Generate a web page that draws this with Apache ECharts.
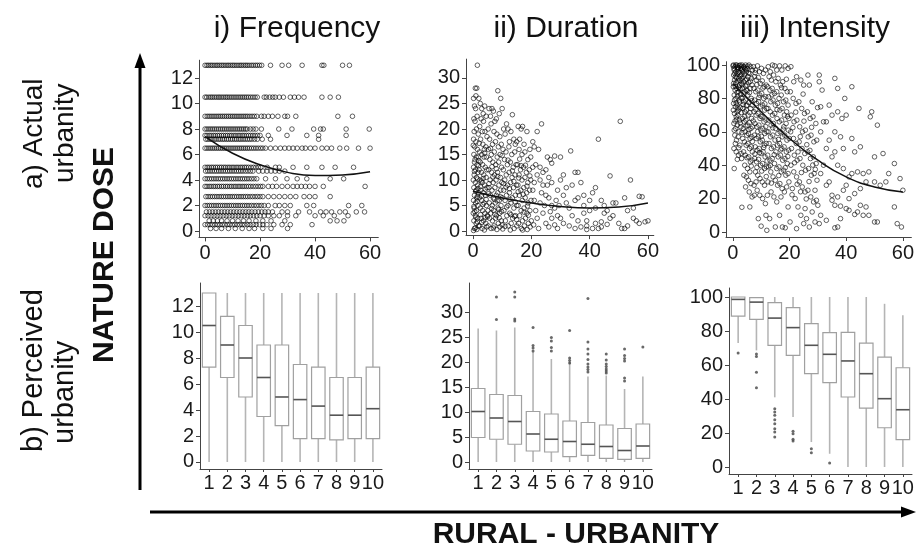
<!DOCTYPE html>
<html><head><meta charset="utf-8">
<script src="https://cdn.jsdelivr.net/npm/echarts@6/dist/echarts.min.js"></script>
<style>html,body{margin:0;padding:0;background:#fff}#c{width:917px;height:547px}</style>
</head><body><div id="c"></div>
<script>
// ---------- DATA ----------
const panelTitles = ['i) Frequency', 'ii) Duration', 'iii) Intensity'];
const rowLabelsA = ['a) Actual', 'urbanity'];
const rowLabelsB = ['b) Perceived', 'urbanity'];
const yTitle = 'NATURE DOSE';
const xTitle = 'RURAL - URBANITY';
const categories = ['1','2','3','4','5','6','7','8','9','10'];
const scatterXTicks = [0, 20, 40, 60];
const freqTicks = [0, 2, 4, 6, 8, 10, 12];
const durTicks = [0, 5, 10, 15, 20, 25, 30];
const intTicks = [0, 20, 40, 60, 80, 100];

// Frequency: reported levels and the urbanity values of respondents at each level
const freqLevels = [13, 10.5, 9, 8, 7.5, 7.2, 6.5, 5, 4.7, 4.1, 3.5, 2.7, 2.0, 1.5, 1.2, 0.8, 0.5, 0.2];
const freqXs = [
  [0,0.7,1.3,2,2.6,3.3,4,4.6,5.3,6,6.6,7.3,8,8.6,9.3,10,10.6,11.3,12,12.7,13.3,14,14.7,15.3,16,16.8,17.5,18.3,19,19.8,20.6,23.8,28,30.4,35.3,42.5,43.2,50,52.5],
  [0,0.6,1.4,2.1,2.7,3.4,4.1,4.8,5.4,6.1,6.8,7.5,8.1,8.8,9.5,10.2,10.9,11.6,12.3,13,13.7,14.4,15.1,15.8,16.6,17.4,18.2,19,21.5,22.3,23.5,24.6,25.5,27,28.5,31,32.5,34,36,42.5,45.5,48.5],
  [0,0.8,1.5,2.2,2.9,3.6,4.3,5,5.7,6.4,7.1,7.8,8.5,9.2,9.9,10.6,11.3,12,12.7,13.4,14.1,14.8,15.5,16.3,17.1,17.9,18.8,20.5,21.5,23,24.5,26.5,29,30,33,48.3,53.6],
  [0,0.7,1.4,2.1,2.8,3.5,4.2,4.9,5.6,6.3,7,7.7,8.4,9.1,9.8,10.5,11.2,11.9,12.6,13.3,14,14.7,15.3,16.5,17.5,18.5,20.5,26.8,31.6,39.5,42,43,51.3,59.7],
  [0,0.7,1.5,2.2,3,3.7,4.5,5.2,6,6.7,7.5,8.2,9,9.7,10.5,11.2,12,12.7,13.5,14.2,15,15.8,16.6,17.4,18.2,19.1,20,23,29.8,37,41.3,51.3],
  [0.3,1,1.8,2.5,3.3,4,4.8,5.5,6.3,7,7.8,8.5,9.3,10,10.8,11.5,12.3,13,13.8,14.6,15.4,16.2,17,18,19,20.8,23.8,41.3],
  [0,0.7,1.4,2.1,2.8,3.5,4.2,4.9,5.6,6.3,7,7.7,8.4,9.1,9.8,10.5,11.2,11.9,12.6,13.3,14,14.7,15.4,16.1,16.9,17.7,18.5,19.3,20.2,21,22,23.8,25.6,27.4,29,30.5,32,33.5,35.3,36.5,38.3,40,42.5,44.3,46,49,51.5,55.8,60],
  [0,0.8,1.5,2.3,3,3.8,4.5,5.3,6,6.8,7.5,8.3,9,9.8,10.5,11.3,12,12.8,13.5,14.3,15,15.8,16.7,17.6,18.5,19.4,20.3,22.6,25.6,27,32,37,42.5,47.3,54],
  [0.2,1,1.8,2.6,3.4,4.2,5,5.8,6.6,7.4,8.2,9,9.8,10.6,11.4,12.2,13,13.8,14.7,15.6,16.5,17.4,19.5,21,22.5,24,25.5,27,29],
  [0,0.8,1.6,2.4,3.2,4,4.8,5.6,6.4,7.2,8,8.8,9.6,10.4,11.2,12,12.8,13.6,14.4,15.2,16,16.9,17.8,18.8,22,25.6,29.8,33.5,37,45.5,50.4],
  [0,0.7,1.5,2.2,3,3.7,4.5,5.2,6,6.7,7.5,8.2,9,9.7,10.5,11.2,12,12.7,13.5,14.2,15,15.8,16.6,17.5,18.4,19.3,20.2,21,23,24.5,26,28,30,32,33.5,35,36.5,38,40,43,58.2],
  [0.3,1.1,1.9,2.7,3.5,4.3,5.1,5.9,6.7,7.5,8.3,9.1,9.9,10.7,11.5,12.3,13.1,13.9,14.7,15.5,16.4,17.3,18.2,19.1,20,21,23,25,27,29,31,33,36,38,40,45.5],
  [0,0.8,1.6,2.4,3.2,4,4.8,5.6,6.4,7.2,8,8.8,9.6,10.4,11.2,12,12.8,13.6,14.4,15.2,16,16.9,17.8,18.7,19.6,20.5,21.5,23,25.5,27,29,31,37,39.5,52.2,57],
  [0.5,1.6,2.7,3.8,4.9,6,7.1,8.2,9.3,10.4,11.5,12.6,13.7,14.8,15.9,17,18.2,19.4,20.6,21.8,23,24.5,28,30,34,38,42,44,46,49,51,55,58],
  [0,1.1,2.2,3.3,4.4,5.5,6.6,7.7,8.8,9.9,11,12.1,13.2,14.3,15.4,16.5,17.6,18.8,20,21.5,23,25,27,30,33,40,43,47,52],
  [1.5,3,4.5,6,8,10,12,14,16,18.5,21,24,29,45.5,48,50.5],
  [0,0.9,1.8,2.7,3.6,4.5,5.4,6.3,7.2,8.1,9,9.9,10.8,11.7,12.6,13.5,14.4,15.4,16.4,17.5,18.6,19.8,21,22.5,25,28,31,38.9],
  [2,4,6,8.5,11,13.5,16,18,21,24,30]
];
const freqFit = [[0,7.4],[10,6.1],[20,5.2],[30,4.6],[40,4.35],[50,4.4],[60,4.65]];

const durPoints = [
  [0.2,26],[0.5,24.5],[1,26.5],[1.5,32.5],[0.8,28],[1.3,28],[2,26],[0.3,22],[0.7,21.5],[1.2,20],[0.4,19.5],[1.8,19],[0.2,18],[1,17.5],[0.6,16.5],[1.5,16],[0.3,15],[1.1,14.5],[1.8,14.5],[0.5,13.5],[1.4,13],[0.2,12.5],[0.9,12],[1.7,11.5],[0.4,11],[1.2,10.5],[0.1,10],[0.8,9.5],[1.6,9],[0.3,8.5],[1.1,8],[1.9,7.5],[0.5,7],[1.3,6.5],[0.2,6],[0.9,5.5],[1.7,5],[0.4,4.5],[1.2,4],[0.1,3.5],[0.8,3],[1.6,2.5],[0.3,2],[1.1,1.5],[1.9,1],[0.5,0.5],[1.3,0.3],[0.2,0.1],[0.8,0.6],[1.5,1.8],[0.6,3.8],[1.4,5.8],[0.9,7.8],[1.6,10.2],[0.7,14],[1.9,12.8],[0.1,16.8],[1.4,22.5],[0.9,24],
  [2.5,25],[3,24],[3.5,23],[4,24.5],[2.8,22],[3.6,21.5],[4.5,22.5],[2.3,20.5],[3.2,19.5],[4.1,19.5],[4.8,18.5],[2.6,18],[3.4,17],[4.4,16.5],[2.2,15.5],[3,15],[3.8,14.5],[4.6,14.5],[2.5,13.5],[3.3,13],[4.2,12.5],[2.1,12],[2.9,11.5],[3.7,11],[4.5,10.5],[2.4,10],[3.2,9.5],[4,9],[4.8,8.5],[2.7,8],[3.5,7.5],[4.3,7],[2.2,6.5],[3,6],[3.8,5.5],[4.6,5],[2.5,4.5],[3.3,4],[4.1,3.5],[4.9,3],[2.8,2.5],[3.6,2],[4.4,1.5],[2.3,1],[3.1,0.5],[3.9,0.2],[4.7,0.8],[2.6,3.2],[3.4,5.2],[4.2,8.2],[2.9,9.8],[4.7,12],[3.9,16],[2.1,17.2],
  [5.5,24],[6,22.5],[6.5,24],[7,23.5],[7.5,21.5],[8,22],[8.5,27.5],[9.5,26],[9,23],[10,24],[5.2,20],[6.2,21],[7.2,19.5],[8.2,19],[9.2,18.5],[5.7,18],[6.7,17],[7.7,17.5],[8.7,16.5],[9.7,17],[5.3,16],[6.3,15],[7.3,15.5],[8.3,14.5],[9.3,15],[5.8,14],[6.8,13.5],[7.8,13],[8.8,13.5],[9.8,12.5],[5.4,12],[6.4,11.5],[7.4,11],[8.4,11.5],[9.4,10.5],[5.9,10],[6.9,9.5],[7.9,10],[8.9,9],[9.9,9.5],[5.5,8.5],[6.5,8],[7.5,8.5],[8.5,7.5],[9.5,8],[6,7],[7,6.5],[8,7],[9,6],[10,6.5],[5.6,5.5],[6.6,5],[7.6,5.5],[8.6,4.5],[9.6,5],[5.1,4],[6.1,3.5],[7.1,4],[8.1,3],[9.1,3.5],[5.7,2.5],[6.7,2],[7.7,2.5],[8.7,1.5],[9.7,2],[5.2,1],[6.2,0.5],[7.2,1],[8.2,0.3],[9.2,0.8],[10,1.2],[6.4,4.4],[8.8,4.2],[7.3,6.2],
  [10.5,20],[11,19],[11.5,21],[12,20],[12.5,17.5],[13,19.5],[13.5,22.8],[14,18],[14.5,17],[15,17.5],[10.3,16],[11.3,15.5],[12.3,16.5],[13.3,15],[14.3,15.5],[10.8,14],[11.8,13],[12.8,13.5],[13.8,12.5],[14.8,13],[10.4,12],[11.4,11],[12.4,11.5],[13.4,10.5],[14.4,11],[10.9,10],[11.9,9],[12.9,9.5],[13.9,8.5],[14.9,9],[10.5,8],[11.5,7],[12.5,7.5],[13.5,6.5],[14.5,7],[11,6],[12,5],[13,5.5],[14,4.5],[15,5],[10.6,4],[11.6,3],[12.6,3.5],[13.6,2.5],[14.6,3],[11.1,2],[12.1,1],[13.1,1.5],[14.1,0.5],[15,1],[10.2,0.4],[12.8,0.2],
  [15.5,20.5],[16.5,20],[17,20.5],[16,18],[17.5,17],[18.5,19.5],[19.5,16],[15.8,16],[16.8,15],[17.8,15.5],[18.8,14],[19.8,14.5],[15.3,13],[16.3,12],[17.3,12.5],[18.3,11.5],[19.3,12],[15.8,11],[16.8,10],[17.8,10.5],[18.8,9.5],[19.8,10],[15.4,9],[16.4,8],[17.4,8.5],[18.4,7.5],[19.4,8],[15.9,7],[16.9,6],[17.9,6.5],[18.9,5.5],[19.9,6],[15.5,5],[16.5,4],[17.5,4.5],[18.5,3.5],[19.5,4],[16,3],[17,2],[18,2.5],[19,1.5],[20,2],[15.6,1.5],[16.6,0.5],[17.6,1],[18.6,0.3],[19.6,0.8],
  [20.5,17.5],[21,16.5],[22,19.5],[22.5,16],[23.5,21],[20.5,12.5],[21.5,13],[22,11],[23,10],[23,12.5],[24,9],[24,11.5],[25,12],[25,7],[25.5,14.5],[26,10.5],[26,6.5],[26.5,14],[27,13.3],[27,5],[27,9.5],[28,14.7],[28,4.5],[29,8],[29,3],[30,14.5],[30,10],[30,2.5],[20.5,8],[21,6],[21.5,4],[22,2.5],[22.5,0.5],[23,5.5],[24,3.5],[25,1.5],[26,0.8],[27,2.5],[28,1.2],[29,0.5],[21,9.5],[23.5,7.5],[25.5,9],[28.5,6],[29.5,5],[24.5,5],[26.5,3.8],[20.8,1.2],
  [31,11],[31,7],[31,1.5],[32,5.5],[33,4.5],[33,1],[33.5,15.7],[34,3],[35,11.5],[35,6],[35,0.5],[36,11.5],[36,6.5],[36,2],[37,9.5],[37,0.8],[38,5],[38,3.5],[39,2],[39,0.3],[40,6],[40,4],[41,7.5],[41,0.5],[42,8.5],[42,4.5],[42,1.5],[43,18],[43,0.5],[44,6],[44,1.8],[45,5],[45,3.5],[46,1.3],[47,10.8],[47,2.5],[48,5.5],[48,3],[49,5.5],[50,1.5],[50.5,21.5],[51,0.5],[52,6.5],[52,0.5],[53,1],[54,10],[55,2.5],[56,2],[57,6.8],[57,1.5],[58,6.7],[59,1.8],[32,8.5],[34,9],[38,7],[46,4],[53,4],[55,4.5],[60,2],[39,1],[44,0.8],
  [0.5,11.7],[1.5,6.8],[2.5,8.7],[3.5,10.3],[4.5,6.2],[5.5,9.3],[6.5,12.6],[7.5,3.3],[8.5,10.7],[9.5,6.7],[10.5,9.3],[11.5,4.7],[12.5,8.3],[13.5,11.8],[14.5,5.7],[15.5,7.7],[16.5,12.8],[17.5,3.7],[18.5,8.8],[19.5,10.8],[1,2.7],[3,1.7],[5,2.8],[7,0.6],[9,2.6],[11,0.9],[13,3.2],[15,2.2],[17,0.2],[19,3.1],[2,13.8],[4,15.3],[6,16.2],[8,12.2],[10,14.8],[12,13.9],[14,9.7],[16,14.1],[18,12.9],[0.3,4.8],[1.7,8.3],[2.9,6.9],[4.1,2.6],[5.3,7.3],[6.8,10.6],[8.3,5.9],[9.8,3.8],[11.3,8.6],[12.7,6.2],[14.2,2.9],[15.7,10.4],[17.2,7.2],[18.7,4.9]
];
const durFit = [[0,7.8],[10,6.5],[20,5.5],[30,4.8],[40,4.5],[50,4.7],[60,5.5]];

const intPoints = [
  [0.2,100],[0.8,99],[1.4,100],[2,98.5],[2.6,100],[0.5,97],[1.1,96],[1.7,97.5],[2.3,95.5],[2.9,97],[0.3,94],[0.9,93],[1.5,94.5],[2.1,92],[2.7,93.5],[0.6,91],[1.2,89.5],[1.8,90.5],[2.4,88],[3,89],[0.2,87],[0.8,85],[1.4,86],[2,84],[2.6,85.5],[0.5,82],[1.1,80],[1.7,81.5],[2.3,79],[2.9,80.5],[0.3,77],[0.9,75],[1.5,76],[2.1,73],[2.7,74.5],[0.6,71],[1.2,69],[1.8,70],[2.4,67],[0.4,65],[1,62],[1.6,64],[2.2,60],[0.7,58],[1.3,55],[1.9,57],[2.5,52],[0.4,50],[1.2,48],[2,46],[0.8,66.5],[1.5,72],[2.8,63],[0.1,99.5],[3,99],[0.5,61],
  [3.3,100],[3.9,99],[4.5,100],[5.1,98],[5.7,100],[6.3,99],[6.9,97],[3.6,96],[4.2,94.5],[4.8,96],[5.4,93],[6,95],[6.6,92],[3.2,92],[3.8,90],[4.4,91],[5,88],[5.6,89.5],[6.2,86],[6.8,88],[3.5,86],[4.1,84],[4.7,85],[5.3,82],[5.9,83.5],[6.5,80],[3.3,80],[3.9,78],[4.5,79],[5.1,76],[5.7,77.5],[6.3,74],[6.9,76],[3.6,74],[4.2,72],[4.8,73],[5.4,70],[6,71.5],[6.6,68],[3.4,68],[4,66],[4.6,67],[5.2,64],[5.8,65.5],[6.4,62],[7,63],[3.7,62],[4.3,60],[4.9,58],[5.5,59],[6.1,56],[6.7,57],[3.5,56],[4.1,54],[4.7,52],[5.3,53],[5.9,50],[6.5,51],[3.8,48],[4.4,46],[5,44.5],[5.6,45],[6.2,42],[6.8,43],[4.2,40],[5.2,38],[6,36],[3.9,34],[5.5,31],[6.4,29],[4.5,27],[5.8,24],[6.8,21],[6,15],[3.2,14.8],[4.8,33],[3.1,44],[6.9,48],
  [7.3,99],[8,97],[8.7,99.5],[9.4,96],[10.1,98],[10.8,95],[11.5,97],[7.6,93],[8.3,91],[9,92.5],[9.7,89],[10.4,90.5],[11.1,87],[11.8,88],[7.4,86],[8.1,84],[8.8,85],[9.5,82],[10.2,83],[10.9,80],[11.6,81],[7.7,79],[8.4,77],[9.1,78],[9.8,75],[10.5,76],[11.2,73],[11.9,74],[7.5,72],[8.2,70],[8.9,71],[9.6,68],[10.3,69],[11,66],[11.7,67],[7.8,65],[8.5,63],[9.2,64],[9.9,61],[10.6,62],[11.3,59],[12,60],[7.6,58],[8.3,56],[9,57],[9.7,54],[10.4,55],[11.1,52],[11.8,53],[7.9,51],[8.6,49],[9.3,50],[10,47],[10.7,48],[11.4,45],[7.7,44],[8.4,42],[9.1,43.5],[9.8,40],[10.5,41],[11.2,38],[11.9,39],[8,36],[8.8,34],[9.6,32],[10.4,30],[11.2,28],[7.5,28],[8.6,25],[9.5,22],[10.5,20],[11.5,17],[8.2,30],[9,8],[10,3.5],[12,1],[11.7,10],[7.6,22],
  [12.5,99],[13.2,96],[14,100],[14.8,99.5],[15.5,97],[16.5,99.5],[17.3,97],[18.5,99.5],[19.5,98],[12.8,93],[13.6,91],[14.4,94],[15.2,90],[16,92],[16.8,88],[17.6,90],[18.4,86],[19.2,84],[12.3,87],[13.1,85],[13.9,86],[14.7,83],[15.5,84],[16.3,80],[17.1,82],[17.9,78],[18.7,79],[19.5,76],[12.6,81],[13.4,78],[14.2,79],[15,76],[15.8,77],[16.6,73],[17.4,74],[18.2,70],[19,72],[19.8,68],[12.4,74],[13.2,72],[14,70],[14.8,71],[15.6,68],[16.4,66],[17.2,67],[18,63],[18.8,65],[19.6,61],[12.7,67],[13.5,64],[14.3,65],[15.1,62],[15.9,59],[16.7,60],[17.5,57],[18.3,58],[19.1,55],[19.9,56],[12.5,60],[13.3,57],[14.1,58],[14.9,55],[15.7,52],[16.5,53],[17.3,50],[18.1,51],[18.9,48],[19.7,49],[12.8,53],[13.6,50],[14.4,51],[15.2,48],[16,45],[16.8,46],[17.6,43],[18.4,44],[19.2,41],[12.3,46],[13.1,43],[13.9,44],[14.7,41],[15.5,38],[16.3,39],[17.1,36],[17.9,37],[18.7,34],[19.5,35],[12.6,39],[13.4,36],[14.2,33],[15,31],[15.8,28],[16.6,29],[17.4,26],[18.2,24],[19,27],[19.8,30],[12.4,30],[13.5,24],[14.5,21],[15.5,18],[16.5,10],[17.5,3],[18.5,2.5],[19.5,15],[13,8],[15,3],[17,21],[12.2,22],
  [20.5,99],[21.5,90],[22.5,93],[24,91],[25,88],[26.5,94],[27,88],[28,78],[20.3,84],[21.3,80],[22.3,77],[23.3,78],[24.3,74],[25.3,71],[26.3,72],[27.3,68],[28.3,69],[29.3,65],[20.6,70],[21.6,66],[22.6,67],[23.6,63],[24.6,60],[25.6,61],[26.6,57],[27.6,58],[28.6,54],[29.6,55],[20.4,60],[21.4,56],[22.4,53],[23.4,54],[24.4,50],[25.4,47],[26.4,48],[27.4,44],[28.4,45],[29.4,41],[20.7,50],[21.7,46],[22.7,43],[23.7,44],[24.7,40],[25.7,37],[26.7,38],[27.7,34],[28.7,35],[29.7,31],[20.5,40],[21.5,36],[22.5,33],[23.5,30],[24.5,27],[25.5,24],[26.5,25],[27.5,21],[28.5,18],[29.5,19],[21,26],[22,20],[23,15],[24,10],[25,5],[26,8],[27,3],[28,12],[29,6],[20.2,6],[22.5,2],[25.5,14],[30,16],[29,25],[23,48],
  [30.5,94],[30.5,90],[31.5,85],[36,92],[37,86],[42,87],[44.5,74],[48.5,69],[49,72],[51,64],[39.5,80],[37,72],[38.5,68],[40,70],[35,70],[34,76],[31,75],[32,66],[33,66],[36,60],[38,57],[42,56],[45,51],[50,45],[53,47],[57,41],[55,35],[59,32],[60,25],[57,15],[58,5],[59.5,3],[50,6],[51,6],[47,15],[45,16],[48,10],[46,10],[44,12],[43,10.5],[41,13],[40,14],[38,15.5],[36,16],[35,19],[37,21],[39,25],[40,28],[41,33],[42,35],[44,36],[46,35],[48,36],[47,30],[50,30],[52,28],[54,30],[45,26],[43,23],[41,20],[38,8],[37,3],[36,2.5],[33,7],[31,10],[30.5,5],[33,50],[35,45],[37,40],[39,38],[31,60],[34,55],[32,40],[34,30],[31,35],[36,48],[39,50],[43,48],[33,28],[35,22],
  [0.4,98],[1,100],[1.6,98.8],[2.2,99.6],[2.8,98],[3.4,97.5],[4,98.7],[4.6,97.2],[5.2,99.3],[0.7,95],[1.3,92.5],[1.9,95.8],[2.5,90.8],[3.1,94.3],[3.7,93],[4.3,97.8],[4.9,91.5],[5.5,95.2],[0.3,89],[0.9,87.3],[1.5,83.5],[2.1,86.7],[2.7,82.4],[3.3,88.2],[3.9,82.6],[4.5,87.4],[5.1,84.6],[0.6,79],[1.2,77.2],[1.8,74.3],[2.4,77.8],[3,71.5],[3.6,76.3],[4.2,69.2],[4.8,75.7],[0.2,73],[1.4,67.5],[2.6,65.2],[3.2,59.5],[4.6,63.4],[5.7,61.2],[0.9,53],[2.1,50.5],[2.9,47],[1.6,43.5],[0.5,38],
  [6.2,90.3],[7.9,95.4],[8.5,88.3],[9.2,80.5],[10.6,86.2],[6.7,78.6],[8.1,73.4],[9.9,69.4],[11.3,76.8],[7.2,66.5],[8.8,60.2],[10.1,57.3],[11.6,63.1],[6.9,54.2],[7.8,46.8],[9.4,47.5],[10.9,50.6],[12.1,42.5],[6.5,39.5],[8.5,38.7],[10.2,36.5],[11.8,33.2],[13.2,39.8],[14.6,46.3],[16.1,55.4],[17.8,61.6],[19.3,69.2],[15.6,73.3],[13.8,82.2],[17.2,86.4],[18.9,91.5],[14.1,62.4],[16.9,49.2],[18.5,38.5],[13.6,29.3],[16.2,33.8],[19.4,45.2],[21.2,62.5],[23.8,57.1],[26.1,52.3],[22.2,71.8],[25.1,66.4],[27.8,62.7],[21.8,41.5],[24.2,35.6],[26.9,30.2],[28.2,40.1],[22.7,28.6],[25.9,19.8],[20.9,22.3],[23.9,24.1],[27.2,48.9],[29.1,37.5],[24.8,82.6],[29.9,74.5]
];
const intFit = [[0,89],[10,72],[20,56],[30,43],[40,33],[50,27],[60,24]];

// Boxplots: [lower whisker, Q1, median, Q3, upper whisker] for urbanity groups 1..10
const freqBox = [[0,7.3,10.5,13,13],[0,6.5,9,11.2,13],[0,5,8,10.5,13],[0,3.5,6.5,9,13],[0,2.8,5,9,13],[0,1.8,4.8,7.5,13],[0,1.8,4.3,7.3,13],[0,1.7,3.6,6.5,13],[0,1.8,3.6,6.5,13],[0,1.8,4.1,7.3,13]];
const durBox = [[0,4.9,10.1,14.7,26.7],[0,4.55,8.8,13.5,26.3],[0,3.55,8.1,13.3,26.9],[0,2.2,5.6,10.1,22],[0,2,4.55,9.6,20.6],[0,1.07,4.1,8.2,20],[0,1.34,3.55,7.9,17.1],[0,0.74,3.1,7.4,17.3],[0,0.54,2.3,6.7,14.6],[0,0.74,3.2,7.6,17.1]];
const intBox = [[72.9,88.8,98.6,100,100],[68.6,86.9,97,99.6,100],[41,71.6,87.6,96.7,100],[29.4,65.7,82,93.7,100],[14.7,54.9,71.6,84.3,100],[7.8,49.6,66.3,79,100],[0,41.2,62.4,79.2,100],[0,34.7,54.9,72.9,100],[0,23.1,40.2,64.7,96],[0,16.1,33.7,58.4,89.2]];
// Outliers: [group index (0-based), value]
const durOutliers = [[1,28.5],[1,33],[2,28.2],[2,28.6],[2,33],[2,34],[3,22.2],[3,22.8],[3,23.3],[3,26.9],[4,22.2],[4,22.9],[4,24.2],[4,24.9],[5,19.8],[5,20.3],[5,20.8],[5,26.3],[6,18],[6,18.5],[6,19],[6,19.6],[6,20.5],[6,21.6],[6,22.6],[6,24],[6,32.7],[7,17.8],[7,18.2],[7,18.6],[7,19.1],[7,19.6],[7,20.4],[7,21.6],[8,16.2],[8,16.8],[8,20.2],[8,20.7],[8,21.3],[8,22.6],[9,23]];
const intOutliers = [[0,67],[1,65],[1,66.5],[1,55.7],[1,46.7],[2,34.3],[2,32.4],[2,30.4],[2,27.8],[2,25.5],[2,22.5],[2,20.6],[2,17.6],[3,21],[3,19.6],[3,16.3],[3,15.3],[4,10.8],[4,8.4],[5,2.4]];

// ---------- CHART ----------
const FONT = '"Liberation Sans", Arial, Helvetica, sans-serif';
const AX = '#444';
const chart = echarts.init(document.getElementById('c'), null, {renderer: 'canvas'});

const freqPoints = [];
freqLevels.forEach((lv, i) => freqXs[i].forEach(x => freqPoints.push([x, lv])));

function valueAxis(gi, min, max, ticks) {
  return {
    type: 'value', gridIndex: gi, min: min, max: max,
    axisLine: {show: true, onZero: false, lineStyle: {color: AX, width: 1}},
    axisTick: {show: true, length: 4, customValues: ticks, lineStyle: {color: AX}},
    axisLabel: {customValues: ticks, fontSize: 20, color: '#1a1a1a', fontFamily: FONT, margin: 6},
    splitLine: {show: false}
  };
}
function catAxis(gi) {
  return {
    type: 'category', gridIndex: gi, data: categories, boundaryGap: true,
    axisLine: {show: true, onZero: false, lineStyle: {color: AX, width: 1}},
    axisTick: {show: true, alignWithLabel: true, length: 3, lineStyle: {color: AX}},
    axisLabel: {interval: 0, fontSize: 20, color: '#1a1a1a', fontFamily: FONT, margin: 4},
    splitLine: {show: false}
  };
}

const grids = [
  {left: 199, top: 60.2, width: 179.3, height: 177.2},
  {left: 466, top: 59.1, width: 187.8, height: 176},
  {left: 726, top: 61.7, width: 189.7, height: 175.3},
  {left: 200, top: 283, width: 182, height: 186},
  {left: 469, top: 283, width: 183, height: 186},
  {left: 729, top: 288, width: 183, height: 186}
];

const xAxes = [
  valueAxis(0, -2.2, 63, scatterXTicks),
  valueAxis(1, -2.4, 62, scatterXTicks),
  valueAxis(2, -2.4, 63, scatterXTicks),
  catAxis(3), catAxis(4), catAxis(5)
];
const yAxes = [
  valueAxis(0, -0.5, 13.4, freqTicks),
  valueAxis(1, -0.8, 33.7, durTicks),
  valueAxis(2, -3, 102, intTicks),
  valueAxis(3, -0.54, 13.77, freqTicks),
  valueAxis(4, -1.4, 35.8, durTicks),
  valueAxis(5, -4.1, 105.3, intTicks)
];

function scatterSeries(idx, data) {
  return {
    type: 'scatter', xAxisIndex: idx, yAxisIndex: idx, data: data,
    symbol: 'circle', symbolSize: 4.6, silent: true, large: false,
    itemStyle: {color: 'rgba(255,255,255,0)', borderColor: 'rgba(0,0,0,0.85)', borderWidth: 0.9}
  };
}
function fitSeries(idx, data) {
  return {
    type: 'line', xAxisIndex: idx, yAxisIndex: idx, data: data, smooth: true,
    showSymbol: false, silent: true, lineStyle: {color: '#111', width: 1.5}, z: 5
  };
}
function renderBox(params, api) {
  const c = api.value(0);
  const lo = api.coord([c, api.value(1)]);
  const q1 = api.coord([c, api.value(2)]);
  const md = api.coord([c, api.value(3)]);
  const q3 = api.coord([c, api.value(4)]);
  const hi = api.coord([c, api.value(5)]);
  const bw = api.size([1, 0])[0] * 0.74;
  const cx = lo[0];
  return {
    type: 'group', children: [
      {type: 'line', shape: {x1: cx, y1: hi[1], x2: cx, y2: q3[1]}, style: {stroke: '#b5b5b5', lineWidth: 1.6}},
      {type: 'line', shape: {x1: cx, y1: q1[1], x2: cx, y2: lo[1]}, style: {stroke: '#b5b5b5', lineWidth: 1.6}},
      {type: 'rect', shape: {x: cx - bw / 2, y: q3[1], width: bw, height: q1[1] - q3[1]}, style: {fill: '#fff', stroke: '#a0a0a0', lineWidth: 1.2}},
      {type: 'line', shape: {x1: cx - bw / 2, y1: md[1], x2: cx + bw / 2, y2: md[1]}, style: {stroke: '#555', lineWidth: 1.6}}
    ]
  };
}
function boxSeries(idx, box) {
  return {
    type: 'custom', xAxisIndex: idx, yAxisIndex: idx, silent: true,
    renderItem: renderBox,
    encode: {x: 0, y: [1, 2, 3, 4, 5]},
    data: box.map((b, i) => [i].concat(b))
  };
}
function outlierSeries(idx, data) {
  return {
    type: 'scatter', xAxisIndex: idx, yAxisIndex: idx, data: data, silent: true,
    symbol: 'circle', symbolSize: 3, itemStyle: {color: '#444'}, z: 4
  };
}

function txt(x, y, text, font, align, rot) {
  return {type: 'text', x: x, y: y, rotation: rot || 0,
    style: {text: text, font: font, textAlign: align, textVerticalAlign: 'middle', fill: '#111'}};
}
const graphic = [
  txt(297, 29, panelTitles[0], '30px ' + FONT, 'center'),
  txt(566, 29, panelTitles[1], '30px ' + FONT, 'center'),
  txt(815, 29, panelTitles[2], '30px ' + FONT, 'center'),
  txt(34, 189, rowLabelsA[0], '28px ' + FONT, 'left', Math.PI / 2),
  txt(65, 183, rowLabelsA[1], '28px ' + FONT, 'left', Math.PI / 2),
  txt(34, 452, rowLabelsB[0], '29px ' + FONT, 'left', Math.PI / 2),
  txt(65, 444, rowLabelsB[1], '29px ' + FONT, 'left', Math.PI / 2),
  txt(105, 255, yTitle, 'bold 30px ' + FONT, 'center', Math.PI / 2),
  txt(576, 535, xTitle, 'bold 30px ' + FONT, 'center'),
  {type: 'line', shape: {x1: 140, y1: 490, x2: 140, y2: 64}, style: {stroke: '#000', lineWidth: 3}},
  {type: 'polygon', shape: {points: [[140, 53], [134.5, 68], [145.5, 68]]}, style: {fill: '#000'}},
  {type: 'line', shape: {x1: 150, y1: 512, x2: 903, y2: 512}, style: {stroke: '#000', lineWidth: 3}},
  {type: 'polygon', shape: {points: [[916, 512], [901, 506.5], [901, 517.5]]}, style: {fill: '#000'}}
];

chart.setOption({
  backgroundColor: '#fff',
  animation: false,
  grid: grids,
  xAxis: xAxes,
  yAxis: yAxes,
  graphic: graphic,
  series: [
    scatterSeries(0, freqPoints), fitSeries(0, freqFit),
    scatterSeries(1, durPoints), fitSeries(1, durFit),
    scatterSeries(2, intPoints), fitSeries(2, intFit),
    boxSeries(3, freqBox),
    boxSeries(4, durBox), outlierSeries(4, durOutliers),
    boxSeries(5, intBox), outlierSeries(5, intOutliers)
  ]
});
</script></body></html>
